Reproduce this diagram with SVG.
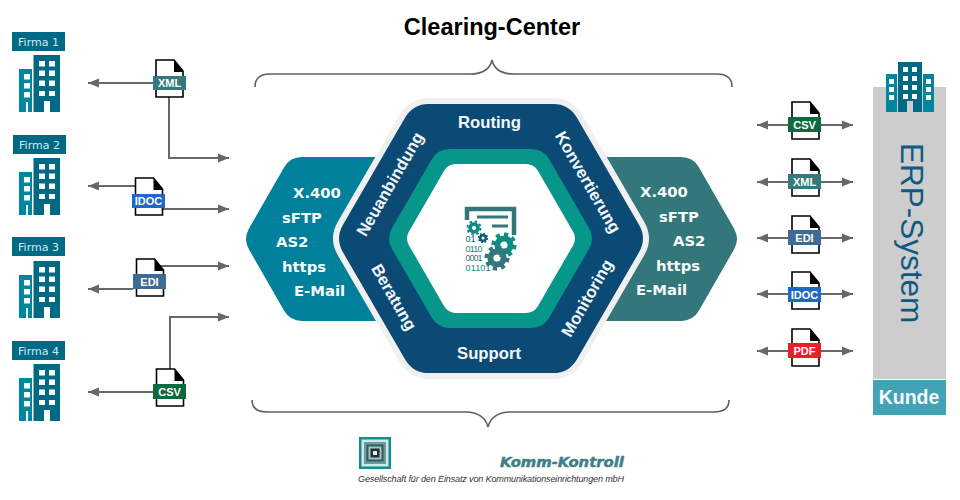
<svg xmlns="http://www.w3.org/2000/svg" width="960" height="500" viewBox="0 0 960 500">
<style>
text{font-family:"Liberation Sans",Arial,sans-serif}
.firma{font-family:"DejaVu Sans",sans-serif;font-size:11px;fill:#d4ebf0;text-anchor:middle}
.flab{fill:#006a85}
.proto{font-family:"DejaVu Sans",Verdana,sans-serif;font-weight:700;font-size:14.800px;fill:#f7fbfb}
.ring{font-weight:700;font-size:16.700px;fill:#f4f7f9;text-anchor:middle}
.doclab{font-weight:700;font-size:11px;fill:#fff;text-anchor:middle}
.bin{font-size:9px}
.conn{fill:none;stroke:#686868;stroke-width:2}
.brace{fill:none;stroke:#606060;stroke-width:1.6}
.dark{fill:#006a85}.lite{fill:#00879e}.win{fill:#fff}
.kk{font-family:"DejaVu Sans",sans-serif;font-weight:700;font-style:italic;font-size:14.800px;fill:#3f7f86;stroke:#3f7f86;stroke-width:.5}
</style>
<defs>
<marker id="arr" markerUnits="userSpaceOnUse" markerWidth="12" markerHeight="10" refX="11" refY="5" orient="auto-start-reverse"><path d="M0,0.5L11,5L0,9.5Z" fill="#686868"/></marker>
<g id="bldg">
<path class="lite" d="M19,69H32V112H28V102H26V112H19Z"/>
<path class="dark" d="M33.500,55H60V112H50V101H44V112H33.500Z"/>
<path class="win" d="M39,61h6v5.500h-6zM49,61h6v5.500h-6zM39,70.500h6v5.500h-6zM49,70.500h6v5.500h-6zM39,80.500h6v5.500h-6zM49,80.500h6v5.500h-6zM39,91h6v5h-6zM49,91h6v5h-6zM24,74h6v5.500h-6zM24,83h6v5.500h-6zM24,92h6v5.500h-6z"/>
</g>
<g id="doc">
<path d="M0,0H18L27,11V37H0Z" fill="#fff" stroke="#000" stroke-width="1.600"/>
<path d="M18,0L27,11V12H18Z" fill="#000"/>
</g>
<g id="gear"><circle r="5.500" fill="none" stroke="currentColor" stroke-width="5"/><circle r="9" fill="none" stroke="currentColor" stroke-width="3" pathLength="16" stroke-dasharray="1 1"/></g>
</defs>

<g id="title"><text x="492" y="35" text-anchor="middle" font-weight="700" font-size="23.500" fill="#000">Clearing-Center</text></g>

<g id="connectors">
<path class="conn" d="M153,83H88" marker-end="url(#arr)"/>
<path class="conn" d="M169,97V158H229" marker-end="url(#arr)"/>
<path class="conn" d="M135,186H88" marker-end="url(#arr)"/>
<path class="conn" d="M162,209H229" marker-end="url(#arr)"/>
<path class="conn" d="M160,266H229" marker-end="url(#arr)"/>
<path class="conn" d="M133,289H88" marker-end="url(#arr)"/>
<path class="conn" d="M170,369V317H229" marker-end="url(#arr)"/>
<path class="conn" d="M153,392H88" marker-end="url(#arr)"/>
<path class="conn" d="M757,125H853" marker-start="url(#arr)" marker-end="url(#arr)"/>
<path class="conn" d="M757,182H853" marker-start="url(#arr)" marker-end="url(#arr)"/>
<path class="conn" d="M757,238H853" marker-start="url(#arr)" marker-end="url(#arr)"/>
<path class="conn" d="M757,294H853" marker-start="url(#arr)" marker-end="url(#arr)"/>
<path class="conn" d="M757,351H853" marker-start="url(#arr)" marker-end="url(#arr)"/>
<path class="brace" d="M255,87C255,79 260,74 270,74H470C482,74 490,69 492,60C494,69 502,74 514,74H717C727,74 732,79 732,87"/>
<path class="brace" d="M729,400C729,408 724,412 714,412H510C498,412 490,418 488,427C486,418 478,412 466,412H267C257,412 252,408 252,400"/>
</g>

<g id="firma1"><rect class="flab" x="12" y="32" width="53" height="19"/><text class="firma" x="38.500" y="46">Firma 1</text><use href="#bldg"/></g>
<g id="firma2"><rect class="flab" x="13" y="135" width="53" height="19"/><text class="firma" x="39.500" y="149">Firma 2</text><use href="#bldg" y="103"/></g>
<g id="firma3"><rect class="flab" x="12" y="237" width="53" height="19"/><text class="firma" x="38.500" y="251">Firma 3</text><use href="#bldg" y="206"/></g>
<g id="firma4"><rect class="flab" x="12" y="341" width="53" height="19"/><text class="firma" x="38.500" y="355">Firma 4</text><use href="#bldg" y="309"/></g>

<g id="doc-xml-l"><use href="#doc" x="156" y="60"/><rect x="153" y="76" width="33" height="14" fill="#36797c"/><text class="doclab" x="169.500" y="87">XML</text></g>
<g id="doc-idoc-l"><use href="#doc" x="135.500" y="178"/><rect x="132" y="194" width="33" height="14" fill="#1f68c4"/><text class="doclab" x="148.500" y="205">IDOC</text></g>
<g id="doc-edi-l"><use href="#doc" x="136.500" y="259"/><rect x="133" y="274" width="33" height="15" fill="#3e6b94"/><text class="doclab" x="149.500" y="285.500">EDI</text></g>
<g id="doc-csv-l"><use href="#doc" x="156.500" y="369"/><rect x="153" y="384" width="33" height="15" fill="#0b6a3e"/><text class="doclab" x="169.500" y="395.500">CSV</text></g>

<g id="doc-csv-r"><use href="#doc" x="792" y="102"/><rect x="788" y="117" width="33" height="15" fill="#0b6a3e"/><text class="doclab" x="804.500" y="128.500">CSV</text></g>
<g id="doc-xml-r"><use href="#doc" x="792" y="159"/><rect x="788" y="174" width="33" height="15" fill="#36797c"/><text class="doclab" x="804.500" y="185.500">XML</text></g>
<g id="doc-edi-r"><use href="#doc" x="792" y="216"/><rect x="788" y="230" width="33" height="15" fill="#3e6b94"/><text class="doclab" x="804.500" y="241.500">EDI</text></g>
<g id="doc-idoc-r"><use href="#doc" x="792" y="272"/><rect x="788" y="287" width="33" height="15" fill="#1f68c4"/><text class="doclab" x="804.500" y="298.500">IDOC</text></g>
<g id="doc-pdf-r"><use href="#doc" x="792" y="329"/><rect x="788" y="343" width="33" height="15" fill="#ed1c2a"/><text class="doclab" x="804.500" y="354.500">PDF</text></g>

<g id="proto-left">
<path fill="#00809a" d="M302,157H390V321H302Q290,321 284,310.600L249,249.400Q243,239 249,228.600L284,167.400Q290,157 302,157Z"/>
<text class="proto" x="293" y="198">X.400</text><text class="proto" x="282" y="223">sFTP</text><text class="proto" x="276" y="247">AS2</text><text class="proto" x="282" y="272">https</text><text class="proto" x="294" y="296">E-Mail</text>
</g>
<g id="proto-right">
<path fill="#34777a" d="M681,157H590V321H681Q693,321 699,310.600L734,249.400Q740,239 734,228.600L699,167.400Q693,157 681,157Z"/>
<text class="proto" x="640" y="197">X.400</text><text class="proto" x="659" y="222">sFTP</text><text class="proto" x="673" y="246">AS2</text><text class="proto" x="656" y="271">https</text><text class="proto" x="636" y="295">E-Mail</text>
</g>

<g id="hub">
<path fill="#0b4a75" stroke="#f0f0f0" stroke-width="12" paint-order="stroke" d="M429,104L553,104Q569,104 577,117.860L639,224.640Q647,238.500 639,252.360L577,359.140Q569,373 553,373L429,373Q413,373 405,359.140L343,252.360Q335,238.500 343,224.640L405,117.860Q413,104 429,104Z"/>
<path fill="#07968a" d="M449.700,149L531.300,149Q543.300,149 549.300,159.400L589,228.100Q595,238.500 589,248.900L549.300,317.600Q543.300,328 531.300,328L449.700,328Q437.700,328 431.700,317.600L392,248.900Q386,238.500 392,228.100L431.700,159.400Q437.700,149 449.700,149Z"/>
<path fill="#fff" d="M456,164L526,164Q534,164 538,170.930L573,231.570Q577,238.500 573,245.430L538,306.070Q534,313 526,313L456,313Q448,313 444,306.070L409,245.430Q405,238.500 409,231.570L444,170.930Q448,164 456,164Z"/>
<text class="ring" x="489.500" y="128">Routing</text>
<text class="ring" x="489" y="359">Support</text>
<text class="ring" transform="translate(395,187) rotate(-60)">Neuanbindung</text>
<text class="ring" transform="translate(389,300) rotate(60)">Beratung</text>
<text class="ring" transform="translate(583,185) rotate(60)">Konvertierung</text>
<text class="ring" transform="translate(592,301) rotate(-60)">Monitoring</text>
</g>

<g id="icon">
<path fill="none" stroke="#34777a" stroke-width="4.500" d="M467,220V209H514V235"/>
<path fill="none" stroke="#34777a" stroke-width="3" d="M477,217H508M492,226H508"/>
<use href="#gear" transform="translate(474,228) scale(.72)" color="#0d8c85"/>
<use href="#gear" transform="translate(483,238) scale(.5)" color="#0a5a7e"/>
<use href="#gear" transform="translate(504,245) scale(1.200)" color="#0d8c85"/>
<use href="#gear" transform="translate(497,258) scale(1.200)" color="#34777a"/>
<text class="bin" x="465.500" y="242" fill="#0a5a7e" textLength="10">01</text>
<text class="bin" x="465.500" y="251.500" fill="#0d8c85" textLength="17">0110</text>
<text class="bin" x="465.500" y="261" fill="#34777a" textLength="17">0001</text>
<text class="bin" x="465.500" y="270.500" fill="#0d8c85" textLength="25">01101</text>
</g>

<g id="erp">
<rect x="873" y="87" width="73" height="292" fill="#cdcdcd"/>
<rect x="873" y="380" width="73" height="35" fill="#43a3b5"/>
<path class="lite" d="M886,74H897V112H886ZM923,74H934V112H923Z"/>
<path class="dark" d="M898,62H922V112H913V101H907V112H898Z"/>
<path class="win" d="M903,67h5v5h-5zM912,67h5v5h-5zM903,76h5v5h-5zM912,76h5v5h-5zM903,85h5v5h-5zM912,85h5v5h-5zM903,94h5v5h-5zM912,94h5v5h-5zM889,79h5v5h-5zM889,87h5v5h-5zM889,95h5v5h-5zM926,79h5v5h-5zM926,87h5v5h-5zM926,95h5v5h-5z"/>
<text transform="translate(901,143) rotate(90)" font-size="31.500" fill="#0f5a84">ERP-System</text>
<text x="909" y="404" text-anchor="middle" font-weight="700" font-size="19.500" fill="#f4fafb">Kunde</text>
</g>

<g id="logo">
<rect x="359" y="437" width="32" height="32" fill="#0f8d93"/>
<rect x="361.500" y="439.500" width="27" height="27" fill="#d5e6e6"/>
<rect x="364" y="442" width="22" height="22" fill="#6f9a9c"/>
<rect x="366.500" y="444.500" width="17" height="17" fill="#2f5d66"/>
<rect x="368.500" y="446.500" width="13" height="13" fill="#a9c0c2"/>
<rect x="370.500" y="448.500" width="9" height="9" fill="#1e3338"/>
<rect x="373" y="451" width="4" height="4" fill="#e6eeee"/>
<text class="kk" x="500" y="467">Komm-Kontroll</text>
<text x="358" y="482" font-size="9" font-style="italic" fill="#333" textLength="266">Gesellschaft für den Einsatz von Kommunikationseinrichtungen mbH</text>
</g>
</svg>
